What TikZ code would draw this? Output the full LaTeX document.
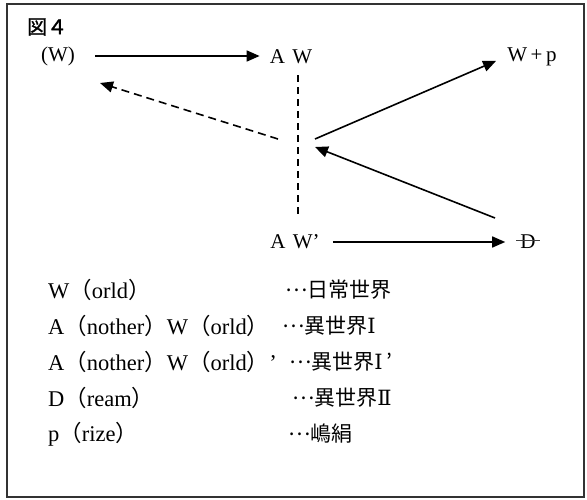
\documentclass[tikz,border=0pt]{standalone}
\usepackage{fontspec}
\setmainfont{Liberation Serif}
\newfontfamily\jp{Noto Sans CJK JP}
\newfontfamily\jpbold{Noto Sans CJK JP}[FakeBold=1.5]
\newfontfamily\rnum{DejaVu Serif}
\usetikzlibrary{arrows.meta,positioning,calc}
\newcommand\jlp{{\jp （}}
\newcommand\jrp{{\jp ）}}
\newcommand\jdots{\raisebox{.3em}{…}}
\tikzset{
  lbl/.style={font=\fontsize{21}{25}\selectfont, inner sep=2pt},
  legend/.style={font=\fontsize{22.5}{26}\selectfont, anchor=west, inner sep=0pt},
  arr/.style={line width=1.6pt, -{Triangle[length=13pt,width=11pt]}},
  dasharr/.style={arr, dash pattern=on 8pt off 5pt},
  vdash/.style={line width=1.2pt, dash pattern=on 7pt off 5pt}
}
\begin{document}
\begin{tikzpicture}[x=1pt,y=-1pt]
		\useasboundingbox (0,0) rectangle (587,500);
		\draw[line width=1.1pt, black!80] (7,4) rectangle (584,497);
		\node[font=\jpbold\fontsize{20}{24}\selectfont, anchor=west, inner sep=0pt] (title) at (27,27) {図４};
		% diagram
		\node[lbl] (Wn) at (58,56) {(W)};
		\node[lbl] (AW) at (291,57) {A\hspace{.35em}W};
		\node[lbl] (Wp) at (532,57) {W\,+\,p};
		\node[lbl] (AWp) at (295,242) {A\hspace{.35em}W’};
		\node[lbl] (Dn) at (528,242) {D};
		\draw[line width=1.2pt, black!75] ([xshift=-2pt,yshift=1.5pt]Dn.west) -- ([xshift=2pt,yshift=1.5pt]Dn.east);
		\coordinate (hub) at (298,143);
		\coordinate (dashL) at (278,139);
		\coordinate (upR) at (315,139);
		\coordinate (inR) at (315,147);
		\coordinate (wtip) at (100,83);
		\coordinate (dtail) at (495,218);
		\draw[arr, shorten <=18pt, shorten >=8pt] (Wn.east) -- (Wn.east -| AW.west);
		\draw[arr, shorten <=11pt, shorten >=13pt] (AWp.east) -- (AWp.east -| Dn.west);
		\draw[vdash, shorten <=9pt, shorten >=17pt] (hub |- AW.south) -- (hub |- AWp.north);
		\draw[dasharr] (dashL) -- (wtip);
		\draw[arr, shorten >=10pt] (upR) -- (Wp.west);
		\draw[arr] (dtail) -- (inR);
		% legend
		\foreach \y/\lt/\rx/\rt [count=\i] in {
				290/{W\jlp orld\jrp}/285/{\jp\fontsize{21}{25}\selectfont \jdots 日常世界},
				326/{A\jlp nother\jrp W\jlp orld\jrp}/282/{\jp\fontsize{21}{25}\selectfont \jdots 異世界{\rnum Ⅰ}},
				362/{A\jlp nother\jrp W\jlp orld\jrp’}/289/{\jp\fontsize{21}{25}\selectfont \jdots 異世界{\rnum Ⅰ}\,’},
				398/{D\jlp ream\jrp}/292/{\jp\fontsize{21}{25}\selectfont \jdots 異世界{\rnum Ⅱ}},
				434/{p\jlp rize\jrp}/288/{\jp\fontsize{21}{25}\selectfont \jdots 嶋絹}}{
				\node[legend] (key\i) at (48,\y) {\lt};
				\node[legend] (val\i) at (\rx,\y) {\rt};
			}
	\end{tikzpicture}
\end{document}
